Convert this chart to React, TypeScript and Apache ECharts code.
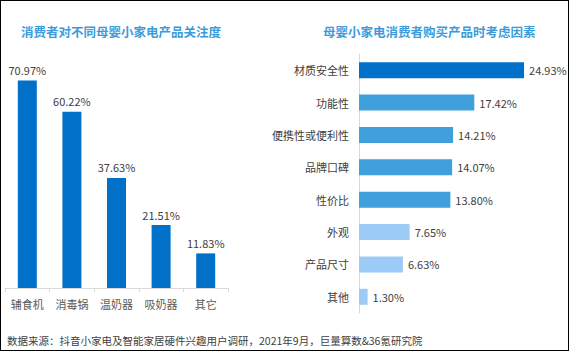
import React, { useEffect, useRef } from "react";
import * as echarts from "echarts";

const leftCategories = ["辅食机", "消毒锅", "温奶器", "吸奶器", "其它"];
const leftValues = [70.97, 60.22, 37.63, 21.51, 11.83];

const rightCategories = ["材质安全性", "功能性", "便携性或便利性", "品牌口碑", "性价比", "外观", "产品尺寸", "其他"];
const rightValues = [24.93, 17.42, 14.21, 14.07, 13.8, 7.65, 6.63, 1.3];
const rightColors = ["#0070c8", "#3fa0dc", "#3fa0dc", "#3fa0dc", "#3fa0dc", "#9ccbf8", "#9ccbf8", "#9ccbf8"];

const leftTitle = "消费者对不同母婴小家电产品关注度";
const rightTitle = "母婴小家电消费者购买产品时考虑因素";
const footer = "数据来源：抖音小家电及智能家居硬件兴趣用户调研，2021年9月，巨量算数&36氪研究院";

const FONT = "'Noto Sans CJK SC', 'Noto Sans', sans-serif";

export default function App() {
  const ref = useRef<HTMLDivElement>(null);
  useEffect(() => {
    if (!ref.current) return;
    const chart = echarts.init(ref.current, null, { renderer: "svg" });
    chart.setOption({
      animation: false,
      backgroundColor: "#ffffff",
      textStyle: { fontFamily: FONT },
      title: [
        {
          text: leftTitle,
          left: 15,
          top: 19,
          textStyle: { fontSize: 12.5, fontWeight: "bold", color: "#3d9bdb", fontFamily: FONT },
        },
        {
          text: rightTitle,
          left: 317,
          top: 19,
          textStyle: { fontSize: 12.5, fontWeight: "bold", color: "#3d9bdb", fontFamily: FONT },
        },
        {
          text: footer,
          left: 1,
          top: 329,
          textStyle: { fontSize: 10.5, fontWeight: "normal", color: "#404040", fontFamily: FONT },
        },
      ],
      grid: [
        { left: 4, top: 53, width: 223, height: 234, containLabel: false },
        { left: 358, top: 53, width: 198.6, height: 259, containLabel: false },
      ],
      xAxis: [
        {
          gridIndex: 0,
          type: "category",
          data: leftCategories,
          axisLine: { lineStyle: { color: "#d9d9d9" } },
          axisTick: { show: true, length: 4, lineStyle: { color: "#d9d9d9" } },
          axisLabel: { interval: 0, fontSize: 11, color: "#595959", margin: 10, fontFamily: FONT },
        },
        {
          gridIndex: 1,
          type: "value",
          min: 0,
          max: 30,
          show: false,
        },
      ],
      yAxis: [
        {
          gridIndex: 0,
          type: "value",
          min: 0,
          max: 80,
          show: false,
        },
        {
          gridIndex: 1,
          type: "category",
          inverse: true,
          data: rightCategories,
          axisLine: { lineStyle: { color: "#d9d9d9" } },
          axisTick: { show: false },
          axisLabel: { interval: 0, fontSize: 11, color: "#404040", margin: 10, fontFamily: FONT },
        },
      ],
      series: [
        {
          type: "bar",
          xAxisIndex: 0,
          yAxisIndex: 0,
          data: leftValues,
          barWidth: 19,
          itemStyle: { color: "#0070c8" },
          label: {
            show: true,
            position: "top",
            distance: 5,
            fontSize: 11,
            color: "#404040",
            fontFamily: FONT,
            formatter: (p: any) => p.value.toFixed(2) + "%",
          },
        },
        {
          type: "bar",
          xAxisIndex: 1,
          yAxisIndex: 1,
          data: rightValues.map((v, i) => ({ value: v, itemStyle: { color: rightColors[i] } })),
          barWidth: 16,
          label: {
            show: true,
            position: "right",
            distance: 5,
            fontSize: 11,
            color: "#404040",
            fontFamily: FONT,
            formatter: (p: any) => p.value.toFixed(2) + "%",
          },
        },
      ],
    });
    return () => chart.dispose();
  }, []);
  return (
    <div
      style={{
        position: "fixed",
        left: 0,
        top: 0,
        width: 569,
        height: 351,
        boxSizing: "border-box",
        border: "1px solid #000",
        background: "#fff",
      }}
    >
      <div ref={ref} style={{ width: 567, height: 349 }} />
    </div>
  );
}
